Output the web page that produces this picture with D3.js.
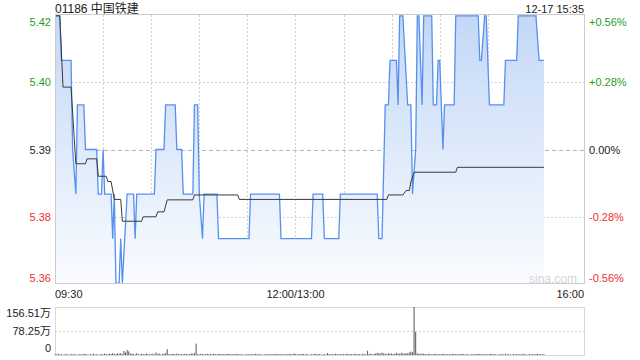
<!DOCTYPE html>
<html lang="zh">
<head>
<meta charset="utf-8">
<script src="https://cdn.jsdelivr.net/npm/d3@7/dist/d3.min.js"></script>
<style>
html, body {
    margin: 0;
    padding: 0;
    background: #fff;
}
#chart {
    width: 640px;
    height: 360px;
}
text {
    font-family: "Liberation Sans", Arial, "Noto Sans CJK SC", sans-serif;
}
</style>
</head>
<body>
<div id="chart"></div>

<script>
// 銘柄情報
var stockCode = "01186";
var stockName = "中国铁建";
var stampText = "12-17 15:35";
var prevClose = 5.39;

// 分時価格 (分 / 価格) の折れ点
var priceTimes = [0, 3, 4, 10, 11, 13, 14, 18, 19, 26, 27, 29, 30, 31, 35, 36, 37, 38, 40, 41,
    42, 45, 49, 50, 51, 62, 63, 68, 69, 75, 76, 79, 80, 86, 87, 89, 90, 92, 93, 101,
    102, 121, 122, 140, 141, 160, 161, 167, 168, 177, 178, 201, 202, 204, 206, 208, 209, 213, 214, 215,
    217, 220, 222, 223, 225, 226, 227, 229, 230, 235, 236, 238, 239, 240, 242, 243, 249, 250, 264, 265,
    266, 268, 269, 271, 280, 281, 288, 289, 300, 302, 305];
var prices = [5.42, 5.42, 5.41, 5.41, 5.39, 5.38, 5.40, 5.40, 5.39, 5.39, 5.38, 5.38, 5.39, 5.38, 5.38, 5.37, 5.38, 5.36, 5.36, 5.37,
    5.36, 5.38, 5.38, 5.37, 5.38, 5.38, 5.39, 5.39, 5.40, 5.40, 5.39, 5.39, 5.38, 5.38, 5.40, 5.40, 5.38, 5.37, 5.38, 5.38,
    5.37, 5.37, 5.38, 5.38, 5.37, 5.37, 5.38, 5.38, 5.37, 5.37, 5.38, 5.38, 5.37, 5.37, 5.40, 5.40, 5.41, 5.41, 5.40, 5.42,
    5.42, 5.40, 5.40, 5.38, 5.39, 5.42, 5.42, 5.40, 5.42, 5.42, 5.40, 5.40, 5.41, 5.41, 5.39, 5.40, 5.40, 5.42, 5.42, 5.41,
    5.41, 5.42, 5.42, 5.40, 5.40, 5.41, 5.41, 5.42, 5.42, 5.41, 5.41];

// 均価線
var avgTimes = [0, 3, 5, 10, 13, 19, 20, 26, 27, 32, 33, 35, 37, 41, 42, 54, 55, 63, 64, 68,
    70, 86, 87, 114, 115, 207, 208, 217, 219, 221, 222, 224, 250, 251, 305];
var avgPrices = [5.42, 5.42, 5.404, 5.404, 5.3868, 5.3868, 5.3879, 5.3879, 5.3840, 5.3840, 5.3828, 5.3828, 5.3788, 5.3788, 5.3739, 5.3739, 5.3749, 5.3749, 5.3760, 5.3760,
    5.3787, 5.3787, 5.3798, 5.3798, 5.3788, 5.3788, 5.3798, 5.3798, 5.3808, 5.3808, 5.3827, 5.3849, 5.3849, 5.3860, 5.3860];

// 分ごとの出来高 (万)
var volumes = [
    3, 2, 4, 2, 3, 1, 2, 3, 2, 1, 4, 2, 3, 2, 1, 3, 2, 2, 4, 3,
    2, 1, 3, 2, 4, 2, 3, 1, 2, 3, 2, 5, 3, 2, 4, 3, 6, 4, 3, 5,
    4, 6, 3, 13, 8, 16, 12, 5, 4, 3, 2, 6, 3, 2, 4, 3, 2, 5, 3, 2,
    3, 4, 2, 8, 3, 5, 2, 3, 4, 6, 19, 3, 2, 4, 3, 2, 5, 3, 2, 3,
    2, 4, 3, 2, 3, 5, 4, 6, 37, 3, 2, 4, 3, 2, 3, 4, 2, 3, 2, 4,
    3, 2, 3, 4, 2, 3, 2, 3, 4, 3, 2, 3, 2, 4, 3, 2, 3, 2, 1, 3,
    2, 3, 2, 3, 2, 4, 3, 2, 3, 2, 1, 3, 2, 3, 2, 2, 3, 2, 4, 3,
    2, 3, 2, 2, 3, 2, 4, 3, 2, 5,
    3, 2, 3, 2, 4, 3, 2, 3, 2, 1, 3, 2, 4, 3, 2, 3, 2, 1, 3, 2,
    6, 3, 2, 3, 2, 4, 3, 2, 3, 2, 3, 2, 4, 3, 2, 3, 2, 4, 3, 2,
    3, 2, 4, 3, 2, 14, 3, 4, 2, 3, 5, 7, 6, 4, 8, 5, 4, 3, 6, 4,
    5, 3, 4, 6, 5, 4, 7, 5, 4, 6, 5, 8, 11, 9, 156.51, 75, 6, 4, 3, 5,
    4, 3, 2, 4, 3, 2, 3, 4, 2, 3, 2, 3, 4, 2, 3, 2, 3, 2, 4, 3,
    3, 2, 3, 2, 4, 3, 2, 3, 2, 1, 3, 2, 3, 2, 4, 3, 2, 3, 2, 3,
    2, 3, 4, 2, 3, 2, 1, 3, 2, 3, 2, 4, 2, 3, 2, 1, 3, 2, 3, 2,
    3, 2, 4, 3, 2, 1, 3, 2, 3, 2, 3, 4, 2, 3, 2, 3];

// 目盛り
var pctTicks = [0.56, 0.28, 0, -0.28, -0.56];
var priceTickLabels = ["5.42", "5.40", "5.39", "5.38", "5.36"];
var pctTickLabels = ["+0.56%", "+0.28%", "0.00%", "-0.28%", "-0.56%"];
var timeTicks = [0, 150, 330];
var timeTickLabels = ["09:30", "12:00/13:00", "16:00"];
var volTicks = [156.51, 78.25, 0];
var volTickLabels = ["156.51万", "78.25万", "0"];

var width = 640, height = 360;
var svg = d3.select("#chart").append("svg")
    .attr("width", width)
    .attr("height", height);

// 描画領域
var plot = {left: 55, right: 584, top: 15, bottom: 284};
var vol = {top: 307, bottom: 355};

var xScale = d3.scaleLinear().domain([0, 330]).range([plot.left, plot.right]);
var pctScale = d3.scaleLinear().domain([-0.56, 0.56]).range([plot.bottom, plot.top]);
var yScale = d3.scaleLinear()
    .domain([prevClose * (1 - 0.0056), prevClose * (1 + 0.0056)])
    .range([plot.bottom, plot.top]);
var volScale = d3.scaleLinear().domain([0, 156.51]).range([vol.bottom, vol.top]);

function tickColor(v) {
    if (v > 0) return "#1f9e1f";
    if (v < 0) return "#ee3030";
    return "#222";
}

// グラデーション
var grad = svg.append("defs").append("linearGradient")
    .attr("id", "areaGrad")
    .attr("gradientUnits", "userSpaceOnUse")
    .attr("x1", 0).attr("x2", 0)
    .attr("y1", plot.top).attr("y2", plot.bottom);
grad.append("stop").attr("offset", "0%").attr("stop-color", "#c3d8f6");
grad.append("stop").attr("offset", "100%").attr("stop-color", "#fafcff");

// タイトル
svg.append("text")
    .attr("x", plot.left).attr("y", 13)
    .attr("font-size", 12).attr("fill", "#222")
    .text(stockCode + " " + stockName);
svg.append("text")
    .attr("x", plot.right).attr("y", 13)
    .attr("text-anchor", "end")
    .attr("font-size", 11).attr("fill", "#222")
    .text(stampText);

var gridLayer = svg.append("g");
var plotLayer = svg.append("g");
var axisLayer = svg.append("g");

// 縦グリッド
gridLayer.selectAll(".vgrid")
    .data(d3.range(30, 330, 30))
    .enter().append("line")
    .attr("x1", function(d){ return Math.round(xScale(d)) + 0.5; })
    .attr("x2", function(d){ return Math.round(xScale(d)) + 0.5; })
    .attr("y1", plot.top).attr("y2", plot.bottom)
    .attr("stroke", "#cfcfcf")
    .attr("stroke-dasharray", "2,2");

// 横グリッド
gridLayer.selectAll(".hgrid")
    .data([0.28, 0, -0.28])
    .enter().append("line")
    .attr("x1", plot.left).attr("x2", plot.right)
    .attr("y1", function(d){ return Math.round(pctScale(d)) + 0.5; })
    .attr("y2", function(d){ return Math.round(pctScale(d)) + 0.5; })
    .attr("stroke", function(d){ return d === 0 ? "#b5b5b5" : "#cfcfcf"; })
    .attr("stroke-dasharray", function(d){ return d === 0 ? "4,3" : "2,2"; });

// 価格データ
var priceData = priceTimes.map(function(t, i){ return {t: t, p: prices[i]}; });
var avgData = avgTimes.map(function(t, i){ return {t: t, p: avgPrices[i]}; });

var area = d3.area()
    .x(function(d){ return xScale(d.t); })
    .y0(plot.bottom)
    .y1(function(d){ return yScale(d.p); });
var line = d3.line()
    .x(function(d){ return xScale(d.t); })
    .y(function(d){ return yScale(d.p); });

plotLayer.append("path")
    .datum(priceData)
    .attr("d", area)
    .attr("fill", "url(#areaGrad)");

plotLayer.append("path")
    .datum(priceData)
    .attr("d", line)
    .attr("fill", "none")
    .attr("stroke", "#5590ef")
    .attr("stroke-width", 1.3);

plotLayer.append("path")
    .datum(avgData)
    .attr("d", line)
    .attr("fill", "none")
    .attr("stroke", "#3a3a3a")
    .attr("stroke-width", 1);

// 枠
axisLayer.append("rect")
    .attr("x", plot.left + 0.5).attr("y", plot.top - 0.5)
    .attr("width", plot.right - plot.left).attr("height", plot.bottom - plot.top)
    .attr("fill", "none").attr("stroke", "#cccccc");

// 左右の目盛りラベル
function labelY(v, i, n) {
    var y = pctScale(v);
    if (i === 0) return y + 11;
    if (i === n - 1) return y - 2;
    return y + 4;
}
axisLayer.selectAll(".ptick")
    .data(pctTicks)
    .enter().append("text")
    .attr("x", plot.left - 4)
    .attr("y", function(d, i){ return labelY(d, i, pctTicks.length); })
    .attr("text-anchor", "end")
    .attr("font-size", 11)
    .attr("fill", tickColor)
    .text(function(d, i){ return priceTickLabels[i]; });
axisLayer.selectAll(".rtick")
    .data(pctTicks)
    .enter().append("text")
    .attr("x", plot.right + 5)
    .attr("y", function(d, i){ return labelY(d, i, pctTicks.length); })
    .attr("font-size", 11)
    .attr("fill", tickColor)
    .text(function(d, i){ return pctTickLabels[i]; });

// 時刻ラベル
axisLayer.selectAll(".ttick")
    .data(timeTicks)
    .enter().append("text")
    .attr("x", function(d){ return xScale(d); })
    .attr("y", 298)
    .attr("text-anchor", function(d, i){ return i === 0 ? "start" : (i === timeTicks.length - 1 ? "end" : "middle"); })
    .attr("font-size", 11)
    .attr("fill", "#222")
    .text(function(d, i){ return timeTickLabels[i]; });

// ウォーターマーク
axisLayer.append("text")
    .attr("x", 553).attr("y", 283)
    .attr("text-anchor", "middle")
    .attr("font-size", 12)
    .attr("fill", "#d6d6d6")
    .text("sina.com");

// 出来高パネル
var volLayer = svg.append("g");
volLayer.append("rect")
    .attr("x", plot.left + 0.5).attr("y", vol.top + 0.5)
    .attr("width", plot.right - plot.left).attr("height", vol.bottom - vol.top)
    .attr("fill", "none").attr("stroke", "#d8d8d8");
volLayer.append("line")
    .attr("x1", plot.left).attr("x2", plot.right)
    .attr("y1", Math.round(volScale(78.25)) + 0.5)
    .attr("y2", Math.round(volScale(78.25)) + 0.5)
    .attr("stroke", "#cfcfcf")
    .attr("stroke-dasharray", "2,2");

volLayer.selectAll(".vbar")
    .data(volumes)
    .enter().append("rect")
    .attr("x", function(d, i){ return xScale(i) - 0.5; })
    .attr("width", 1)
    .attr("y", function(d){ return volScale(d); })
    .attr("height", function(d){ return vol.bottom - volScale(d); })
    .attr("fill", "#555");

volLayer.selectAll(".vtick")
    .data(volTicks)
    .enter().append("text")
    .attr("x", plot.left - 4)
    .attr("y", function(d, i){
        var y = volScale(d);
        if (i === 0) return y + 10;
        if (i === volTicks.length - 1) return y - 3;
        return y + 4;
    })
    .attr("text-anchor", "end")
    .attr("font-size", 11)
    .attr("fill", "#222")
    .text(function(d, i){ return volTickLabels[i]; });
</script>
</body>
</html>
